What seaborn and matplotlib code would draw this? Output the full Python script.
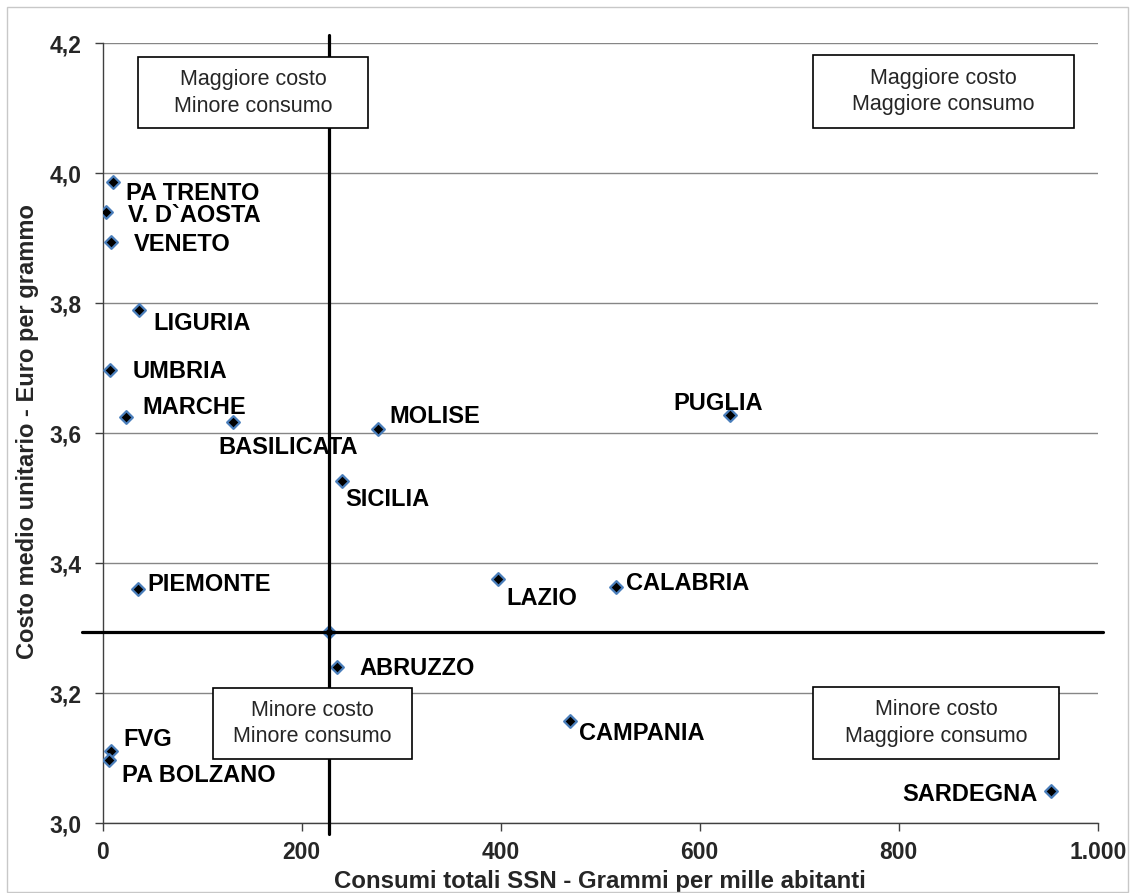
import matplotlib
matplotlib.use("Agg")
import matplotlib.pyplot as plt
from matplotlib.patches import Rectangle
from matplotlib.ticker import FixedLocator
import seaborn as sns
import pandas as pd

# ---------------- data ----------------
regions = ["PA TRENTO", "V. D`AOSTA", "VENETO", "LIGURIA", "UMBRIA", "MARCHE",
           "BASILICATA", "MOLISE", "PUGLIA", "SICILIA", "LAZIO", "CALABRIA",
           "PIEMONTE", "ABRUZZO", "CAMPANIA", "FVG", "PA BOLZANO", "SARDEGNA"]
consumi = [10.7, 3.3, 8.0, 36.6, 7.3, 23.6,
           131.3, 277.0, 630.0, 240.2, 397.0, 515.6,
           35.8, 235.2, 469.3, 8.0, 6.6, 952.6]
costo = [3.986, 3.940, 3.894, 3.790, 3.698, 3.625,
         3.618, 3.607, 3.628, 3.527, 3.376, 3.363,
         3.361, 3.241, 3.157, 3.112, 3.098, 3.050]
italia_consumi = [227.0]
italia_costo = [3.295]

x_ticks = [0, 200, 400, 600, 800, 1000]
x_tick_labels = ["0", "200", "400", "600", "800", "1.000"]
y_ticks = [3.0, 3.2, 3.4, 3.6, 3.8, 4.0, 4.2]
y_tick_labels = ["3,0", "3,2", "3,4", "3,6", "3,8", "4,0", "4,2"]

quadrant_texts = ["Maggiore costo\nMinore consumo", "Maggiore costo\nMaggiore consumo",
                  "Minore costo\nMinore consumo", "Minore costo\nMaggiore consumo"]
x_title = "Consumi totali SSN - Grammi per mille abitanti"
y_title = "Costo medio unitario - Euro per grammo"

# ---------------- label placement (pixel offsets, alignment) ----------------
label_offsets = {
    "PA TRENTO": (13, -9, "left"), "V. D`AOSTA": (22, -1, "left"),
    "VENETO": (23, 0, "left"), "LIGURIA": (14, -12, "left"),
    "UMBRIA": (23, 0, "left"), "MARCHE": (16, 11, "left"),
    "BASILICATA": (-15, -24, "left"), "MOLISE": (11, 14, "left"),
    "PUGLIA": (-56, 14, "left"), "SICILIA": (4, -17, "left"),
    "LAZIO": (9, -18, "left"), "CALABRIA": (10, 6, "left"),
    "PIEMONTE": (9, 6, "left"), "ABRUZZO": (23, 0, "left"),
    "CAMPANIA": (9, -10, "left"), "FVG": (13, 13, "left"),
    "PA BOLZANO": (13, -14, "left"), "SARDEGNA": (-13, -2, "right"),
}
# quadrant boxes in axes fraction: (x0, y0, w, h)
quadrant_boxes = [(0.0352, 0.891, 0.2318, 0.091), (0.7142, 0.891, 0.262, 0.094),
                  (0.1112, 0.0824, 0.1997, 0.0914), (0.7142, 0.0824, 0.2473, 0.0919)]

# ---------------- style ----------------
sns.set_style("white")
plt.rcParams['font.family'] = ['Liberation Sans', 'DejaVu Sans']

fig = plt.figure(figsize=(11.36, 8.93), dpi=100)
ax = fig.add_axes([102.7 / 1136, 1 - 823.3 / 893, 995 / 1136, 780 / 893])

df = pd.DataFrame({"consumi": consumi + italia_consumi,
                   "costo": costo + italia_costo})
sns.scatterplot(data=df, x="consumi", y="costo", ax=ax, marker="D", s=42,
                color="black", edgecolor="#4a7ebb", linewidth=1.6, zorder=3)

ax.set_xlim(0, 1000)
ax.set_ylim(3.0, 4.2)

ax.xaxis.set_major_locator(FixedLocator(x_ticks))
ax.set_xticklabels(x_tick_labels)
ax.yaxis.set_major_locator(FixedLocator(y_ticks))
ax.set_yticklabels(y_tick_labels)
ax.tick_params(axis="both", which="major", labelsize=16.5, length=6, width=1,
               color="#404040", direction="out")
ax.tick_params(axis="x", pad=7)
ax.tick_params(axis="y", pad=9)
for lbl in ax.get_xticklabels() + ax.get_yticklabels():
    lbl.set_fontweight("bold")
ax.xaxis.set_ticks_position("bottom")
ax.yaxis.set_ticks_position("left")

ax.grid(axis="y", color="#868686", linewidth=1.0, zorder=0)
ax.grid(axis="x", visible=False)
ax.set_axisbelow(True)
for side in ["top", "right"]:
    ax.spines[side].set_visible(False)
for side in ["left", "bottom"]:
    ax.spines[side].set_color("#404040")
    ax.spines[side].set_linewidth(1.0)

ax.set_xlabel(x_title, fontsize=17.3, fontweight="bold")
ax.set_ylabel(y_title, fontsize=17, fontweight="bold")
ax.xaxis.set_label_coords(0.5, -0.0595)
ax.yaxis.set_label_coords(-0.064, 0.502)

# average (Italia) reference lines
ax.axvline(italia_consumi[0], ymin=-0.0137, ymax=1.0106, color="black",
           linewidth=2.3, clip_on=False, zorder=4)
ax.axhline(italia_costo[0], xmin=-0.0211, xmax=1.0053, color="black",
           linewidth=2.3, clip_on=False, zorder=4)

# region labels
for name, xv, yv in zip(regions, consumi, costo):
    dx, dy, ha = label_offsets[name]
    ax.annotate(name, (xv, yv), xytext=(dx, dy - 8.4), textcoords="offset pixels",
                ha=ha, va="baseline", fontsize=17, fontweight="bold",
                color="black", zorder=5)

# quadrant boxes
for (x0, y0, w, h), txt in zip(quadrant_boxes, quadrant_texts):
    ax.add_patch(Rectangle((x0, y0), w, h, transform=ax.transAxes,
                           facecolor="white", edgecolor="black", linewidth=1.2,
                           zorder=6, clip_on=False))
    ax.text(x0 + w / 2, y0 + h / 2, txt, transform=ax.transAxes, ha="center",
            va="center", fontsize=15.5, linespacing=1.35, zorder=7)

# outer light frame
fig.patches.append(Rectangle((7 / 1136, 1 / 893), 1121 / 1136, 885 / 893,
                             transform=fig.transFigure, fill=False,
                             edgecolor="#c8c8c8", linewidth=1.0))

fig.savefig("out.png", dpi=100)
